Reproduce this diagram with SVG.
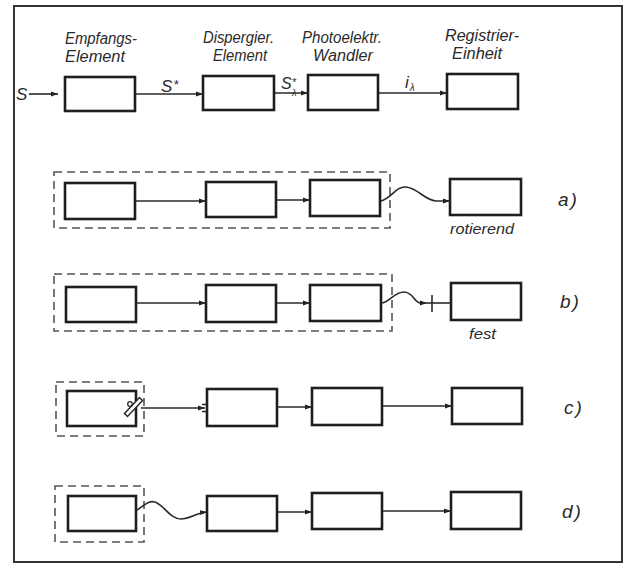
<svg xmlns="http://www.w3.org/2000/svg" width="628" height="565" viewBox="0 0 628 565">
<defs>
<marker id="ah" markerWidth="8" markerHeight="6" refX="7" refY="3" orient="auto" markerUnits="userSpaceOnUse">
<path d="M0,0.5 L7,3 L0,5.5 Z" fill="#222"/>
</marker>
<style>
.box{fill:#fff;stroke:#1e1e1e;stroke-width:2.6}
.dash{fill:none;stroke:#555;stroke-width:1.6;stroke-dasharray:8 5}
.ln{fill:none;stroke:#2a2a2a;stroke-width:1.6}
.t{font-family:"Liberation Sans",Arial,sans-serif;font-style:italic;fill:#2a2a2a}
.h{font-size:16px}
.s{font-size:17px}
.lab{font-size:19px;letter-spacing:2px}
</style>
</defs>
<rect width="628" height="565" fill="#fff"/>
<rect x="14" y="6" width="608" height="556" fill="none" stroke="#333" stroke-width="2"/>

<g id="headers">
<text class="t h" x="65" y="44" textLength="72" lengthAdjust="spacingAndGlyphs">Empfangs-</text>
<text class="t h" x="65" y="62" textLength="60" lengthAdjust="spacingAndGlyphs">Element</text>
<text class="t h" x="203" y="43" textLength="71" lengthAdjust="spacingAndGlyphs">Dispergier.</text>
<text class="t h" x="213" y="61" textLength="54" lengthAdjust="spacingAndGlyphs">Element</text>
<text class="t h" x="302" y="43" textLength="80" lengthAdjust="spacingAndGlyphs">Photoelektr.</text>
<text class="t h" x="313" y="61" textLength="60" lengthAdjust="spacingAndGlyphs">Wandler</text>
<text class="t h" x="445" y="41" textLength="74" lengthAdjust="spacingAndGlyphs">Registrier-</text>
<text class="t h" x="452" y="59" textLength="50" lengthAdjust="spacingAndGlyphs">Einheit</text>
</g>

<g id="row0">
<g id="r0-empfang"><rect class="box" x="65" y="77" width="70" height="34"/></g>
<g id="r0-disp"><rect class="box" x="203" y="76" width="71" height="34"/></g>
<g id="r0-photo"><rect class="box" x="308" y="75" width="70" height="35"/></g>
<g id="r0-reg"><rect class="box" x="447" y="74" width="71" height="35"/></g>
<text class="t s" x="16" y="100">S</text>
<text class="t s" x="161" y="92">S<tspan dx="1" dy="-3" font-size="13">*</tspan></text>
<text class="t" x="281" y="89" font-size="16">S<tspan dy="-3" font-size="11">*</tspan><tspan dx="-4" dy="10" font-size="9">λ</tspan></text>
<text class="t s" x="405" y="88">i<tspan dx="1" dy="3" font-size="10">λ</tspan></text>
</g>

<g id="rowA">
<rect class="dash" x="54" y="172" width="336" height="56"/>
<g id="a-empfang"><rect class="box" x="65" y="183" width="70" height="36"/></g>
<g id="a-disp"><rect class="box" x="206" y="182" width="70" height="35"/></g>
<g id="a-photo"><rect class="box" x="310" y="180" width="70" height="36"/></g>
<g id="a-reg"><rect class="box" x="450" y="179" width="71" height="36"/></g>
<text class="t lab" x="558" y="206">a)</text>
<text class="t" x="450" y="234" font-size="15" textLength="64" lengthAdjust="spacingAndGlyphs">rotierend</text>
</g>

<g id="rowB">
<rect class="dash" x="54" y="274" width="338" height="57"/>
<g id="b-empfang"><rect class="box" x="66" y="287" width="70" height="35"/></g>
<g id="b-disp"><rect class="box" x="206" y="285" width="70" height="37"/></g>
<g id="b-photo"><rect class="box" x="310" y="285" width="71" height="36"/></g>
<g id="b-reg"><rect class="box" x="451" y="283" width="70" height="37"/></g>
<text class="t lab" x="560" y="308">b)</text>
<text class="t" x="469" y="339" font-size="15" textLength="27" lengthAdjust="spacingAndGlyphs">fest</text>
</g>

<g id="rowC">
<rect class="dash" x="56" y="382" width="88" height="54"/>
<g id="c-empfang"><rect class="box" x="67" y="391" width="69" height="35"/>
<path d="M124.5,413.5 L139.5,397.5 L142.5,400.5 L127.5,416.5 Z" fill="#fff" stroke="#2a2a2a" stroke-width="1.5"/>
<circle cx="130" cy="404" r="2.3" fill="none" stroke="#2a2a2a" stroke-width="1.3"/>
</g>
<g id="c-disp"><rect class="box" x="207" y="389" width="70" height="37"/></g>
<g id="c-photo"><rect class="box" x="312" y="388" width="70" height="37"/></g>
<g id="c-reg"><rect class="box" x="452" y="388" width="70" height="36"/></g>
<text class="t lab" x="564" y="414">c)</text>
</g>

<g id="rowD">
<rect class="dash" x="55" y="486" width="89" height="56"/>
<g id="d-empfang"><rect class="box" x="68" y="496" width="68" height="35"/></g>
<g id="d-disp"><rect class="box" x="207" y="496" width="70" height="35"/></g>
<g id="d-photo"><rect class="box" x="312" y="493" width="70" height="36"/></g>
<g id="d-reg"><rect class="box" x="451" y="492" width="70" height="37"/></g>
<text class="t lab" x="562" y="518">d)</text>
</g>

<g id="connectors">
<line class="ln" x1="29" y1="94" x2="58" y2="94" marker-end="url(#ah)"/>
<line class="ln" x1="136" y1="94" x2="203" y2="94" marker-end="url(#ah)"/>
<line class="ln" x1="275" y1="93" x2="308" y2="93" marker-end="url(#ah)"/>
<line class="ln" x1="379" y1="93" x2="447" y2="93" marker-end="url(#ah)"/>

<line class="ln" x1="136" y1="201" x2="206" y2="201" marker-end="url(#ah)"/>
<line class="ln" x1="277" y1="200" x2="310" y2="200" marker-end="url(#ah)"/>
<path class="ln" d="M381,201 C392,198 396,186 406,187 C418,188 424,200 436,201 L450,201" marker-end="url(#ah)"/>

<line class="ln" x1="137" y1="303" x2="206" y2="303" marker-end="url(#ah)"/>
<line class="ln" x1="277" y1="303" x2="310" y2="303" marker-end="url(#ah)"/>
<path class="ln" d="M382,303 C390,302 394,292 404,292 C413,292 414,302 420,303 L427,303" marker-end="url(#ah)"/>
<line class="ln" x1="427" y1="303" x2="451" y2="303"/>
<line class="ln" x1="432" y1="295" x2="432" y2="312"/>

<line class="ln" x1="141" y1="408" x2="205" y2="408" marker-end="url(#ah)"/>
<path class="ln" d="M202,404.5 H206.5 M202,411.5 H206.5" stroke-width="1.3"/>
<line class="ln" x1="278" y1="407" x2="312" y2="407" marker-end="url(#ah)"/>
<line class="ln" x1="383" y1="406" x2="452" y2="406" marker-end="url(#ah)"/>

<path class="ln" d="M137,510 C144,506 148,500 155,502 C164,505 170,519 181,519 C190,519 196,513 207,512" marker-end="url(#ah)"/>
<line class="ln" x1="278" y1="512" x2="312" y2="512" marker-end="url(#ah)"/>
<line class="ln" x1="383" y1="511" x2="451" y2="511" marker-end="url(#ah)"/>
</g>
</svg>
